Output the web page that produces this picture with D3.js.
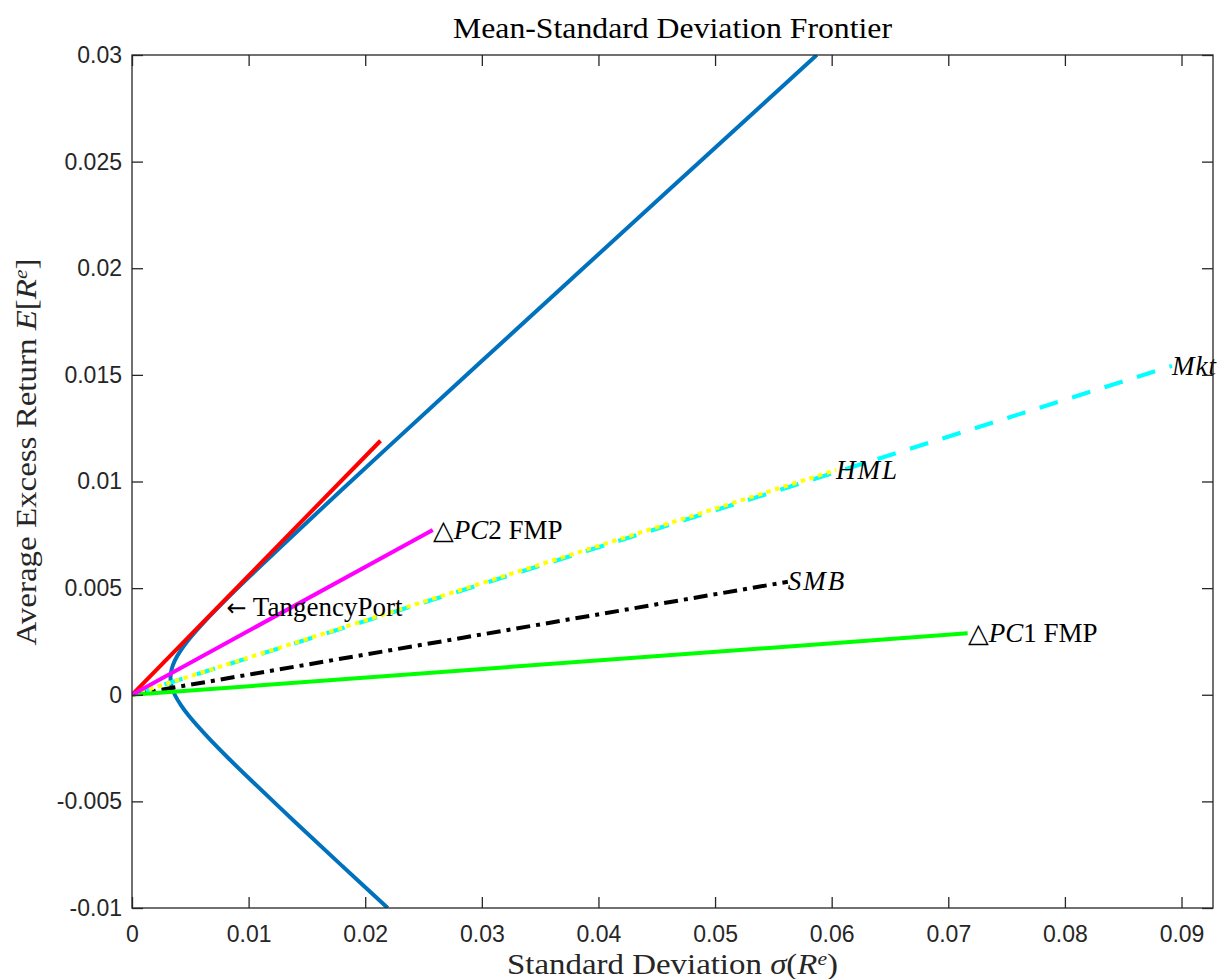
<!DOCTYPE html>
<meta charset="utf-8">
<style>
  body { margin: 0; background: #fff; }
  .tick text { font-family: "Liberation Sans", Arial, Helvetica, sans-serif; font-size: 23px; fill: #262626; }
  .lbl { font-family: "Liberation Serif", "Times New Roman", serif; font-size: 27px; fill: #000; }
  .axlbl { font-family: "Liberation Serif", "Times New Roman", serif; font-size: 29px; fill: #262626; }
</style>
<script src="https://d3js.org/d3.v7.min.js"></script>
<svg id="chart" width="1222" height="979"></svg>
<script>

// frontier (std dev, mean)
var frontierSigma = [0.02193, 0.01797, 0.01405, 0.01019, 0.00831, 0.00652, 0.00489, 0.00421, 0.00367, 0.00340,
                     0.00330, 0.00340, 0.00367, 0.00421, 0.00489, 0.00652, 0.00831, 0.01019, 0.01405, 0.01797,
                     0.02193, 0.02990, 0.03789, 0.04589, 0.05391, 0.05872];
var frontierMu    = [-0.010, -0.008, -0.006, -0.004, -0.003, -0.002, -0.001, -0.0005, 0.0, 0.0004,
                     0.0008, 0.0012, 0.0016, 0.0021, 0.0026, 0.0036, 0.0046, 0.0056, 0.0076, 0.0096,
                     0.0116, 0.0156, 0.0196, 0.0236, 0.0276, 0.0300];

// portfolio end points (rays drawn from the origin)
var portNames = ["Tangency", "Mkt", "SMB", "HML", "PC1", "PC2"];
var portSigma = [0.02131, 0.08918, 0.05624, 0.06038, 0.07166, 0.02579];
var portMu    = [0.01191, 0.01542, 0.00530, 0.01054, 0.00288, 0.00773];

var xTicks = [0, 0.01, 0.02, 0.03, 0.04, 0.05, 0.06, 0.07, 0.08, 0.09];
var yTicks = [-0.01, -0.005, 0, 0.005, 0.01, 0.015, 0.02, 0.025, 0.03];

var svg = d3.select("#chart");
var mLeft = 132, mRight = 1213, mTop = 55, mBottom = 908;

var x = d3.scaleLinear().domain([0, 0.0927]).range([mLeft, mRight]);
var y = d3.scaleLinear().domain([-0.01, 0.03]).range([mBottom, mTop]);

svg.append("rect").attr("width", 1222).attr("height", 979).attr("fill", "#fff");

svg.append("defs").append("clipPath").attr("id", "clip")
  .append("rect").attr("x", mLeft).attr("y", mTop).attr("width", mRight - mLeft).attr("height", mBottom - mTop);

var plot = svg.append("g").attr("clip-path", "url(#clip)");

// frontier
var line = d3.line()
  .x(function(d) { return x(d[0]); })
  .y(function(d) { return y(d[1]); })
  .curve(d3.curveCatmullRom);

var frontier = frontierSigma.map(function(s, i) { return [s, frontierMu[i]]; });
plot.append("path")
  .datum(frontier)
  .attr("d", line)
  .attr("fill", "none")
  .attr("stroke", "#0072BD")
  .attr("stroke-width", 4);

// style of each ray
var styles = {
  Tangency: { color: "#FF0000", dash: null },
  Mkt:      { color: "#00FFFF", dash: "19,15" },
  SMB:      { color: "#000000", dash: "14,6,4,6" },
  HML:      { color: "#FFFF00", dash: "4.5,4.5" },
  PC1:      { color: "#00FF00", dash: null },
  PC2:      { color: "#FF00FF", dash: null }
};

var order = ["Tangency", "Mkt", "SMB", "HML", "PC1", "PC2"];
order.forEach(function(name) {
  var i = portNames.indexOf(name);
  var st = styles[name];
  plot.append("line")
    .attr("x1", x(0)).attr("y1", y(0))
    .attr("x2", x(portSigma[i])).attr("y2", y(portMu[i]))
    .attr("stroke", st.color)
    .attr("stroke-width", 4)
    .attr("stroke-dasharray", st.dash);
});

// labels at ray ends
function label(name, parts) {
  var i = portNames.indexOf(name);
  var t = svg.append("text").attr("class", "lbl")
    .attr("x", x(portSigma[i]))
    .attr("y", y(portMu[i]))
    .attr("dy", "0.32em");
  parts.forEach(function(p) {
    t.append("tspan").text(p[0]).style("font-style", p[1] ? "italic" : "normal")
      .attr("letter-spacing", p[2] || null);
  });
}
label("PC2", [["△", false], ["PC", true], ["2 FMP", false]]);
label("PC1", [["△", false], ["PC", true], ["1 FMP", false]]);
label("HML", [["HML", true, 2]]);
label("SMB", [["SMB", true, 2]]);
label("Mkt", [["Mkt", true, 1]]);

var tp = svg.append("text").attr("class", "lbl")
  .attr("x", x(0.0081)).attr("y", y(0.0041)).attr("dy", "0.32em");
tp.append("tspan").text("←").style("font-family", "'DejaVu Sans'").style("font-size", "24px");
tp.append("tspan").text(" TangencyPort");

// axes
var axisColor = "#262626";
var fmt = function(d) { return String(d); };
function styleAxis(g) {
  g.select(".domain").remove();
  g.selectAll(".tick line").attr("stroke", axisColor).attr("stroke-width", 1.3);
}

svg.append("g").attr("transform", "translate(0," + mBottom + ")")
  .call(d3.axisBottom(x).tickValues(xTicks).tickSizeInner(-11).tickSizeOuter(0).tickPadding(18).tickFormat(fmt))
  .call(styleAxis);
svg.append("g").attr("transform", "translate(0," + mTop + ")")
  .call(d3.axisTop(x).tickValues(xTicks).tickSizeInner(-11).tickSizeOuter(0).tickFormat(""))
  .call(styleAxis);
svg.append("g").attr("transform", "translate(" + mLeft + ",0)")
  .call(d3.axisLeft(y).tickValues(yTicks).tickSizeInner(-11).tickSizeOuter(0).tickPadding(10).tickFormat(fmt))
  .call(styleAxis);
svg.append("g").attr("transform", "translate(" + mRight + ",0)")
  .call(d3.axisRight(y).tickValues(yTicks).tickSizeInner(-11).tickSizeOuter(0).tickFormat(""))
  .call(styleAxis);

svg.selectAll(".tick text").attr("fill", axisColor).attr("font-family", null).attr("font-size", null);

svg.append("rect")
  .attr("x", mLeft).attr("y", mTop).attr("width", mRight - mLeft).attr("height", mBottom - mTop)
  .attr("fill", "none").attr("stroke", axisColor).attr("stroke-width", 1.3);

// titles
svg.append("text").attr("class", "axlbl")
  .attr("x", (mLeft + mRight) / 2).attr("y", 38).attr("text-anchor", "middle")
  .attr("textLength", 439).attr("lengthAdjust", "spacingAndGlyphs")
  .style("fill", "#000")
  .text("Mean-Standard Deviation Frontier");

var xl = svg.append("text").attr("class", "axlbl")
  .attr("x", (mLeft + mRight) / 2).attr("y", 974).attr("text-anchor", "middle")
  .attr("textLength", 331).attr("lengthAdjust", "spacingAndGlyphs");
xl.append("tspan").text("Standard Deviation ");
xl.append("tspan").text("σ").style("font-style", "italic");
xl.append("tspan").text("(");
xl.append("tspan").text("R").style("font-style", "italic");
xl.append("tspan").text("e").style("font-style", "italic").attr("dy", -9).style("font-size", "19px");
xl.append("tspan").text(")").attr("dy", 9);

var yl = svg.append("text").attr("class", "axlbl")
  .attr("transform", "translate(36,452) rotate(-90)")
  .attr("text-anchor", "middle")
  .attr("textLength", 387).attr("lengthAdjust", "spacingAndGlyphs");
yl.append("tspan").text("Average Excess Return ");
yl.append("tspan").text("E").style("font-style", "italic");
yl.append("tspan").text("[");
yl.append("tspan").text("R").style("font-style", "italic");
yl.append("tspan").text("e").style("font-style", "italic").attr("dy", -9).style("font-size", "19px");
yl.append("tspan").text("]").attr("dy", 9);

</script>
